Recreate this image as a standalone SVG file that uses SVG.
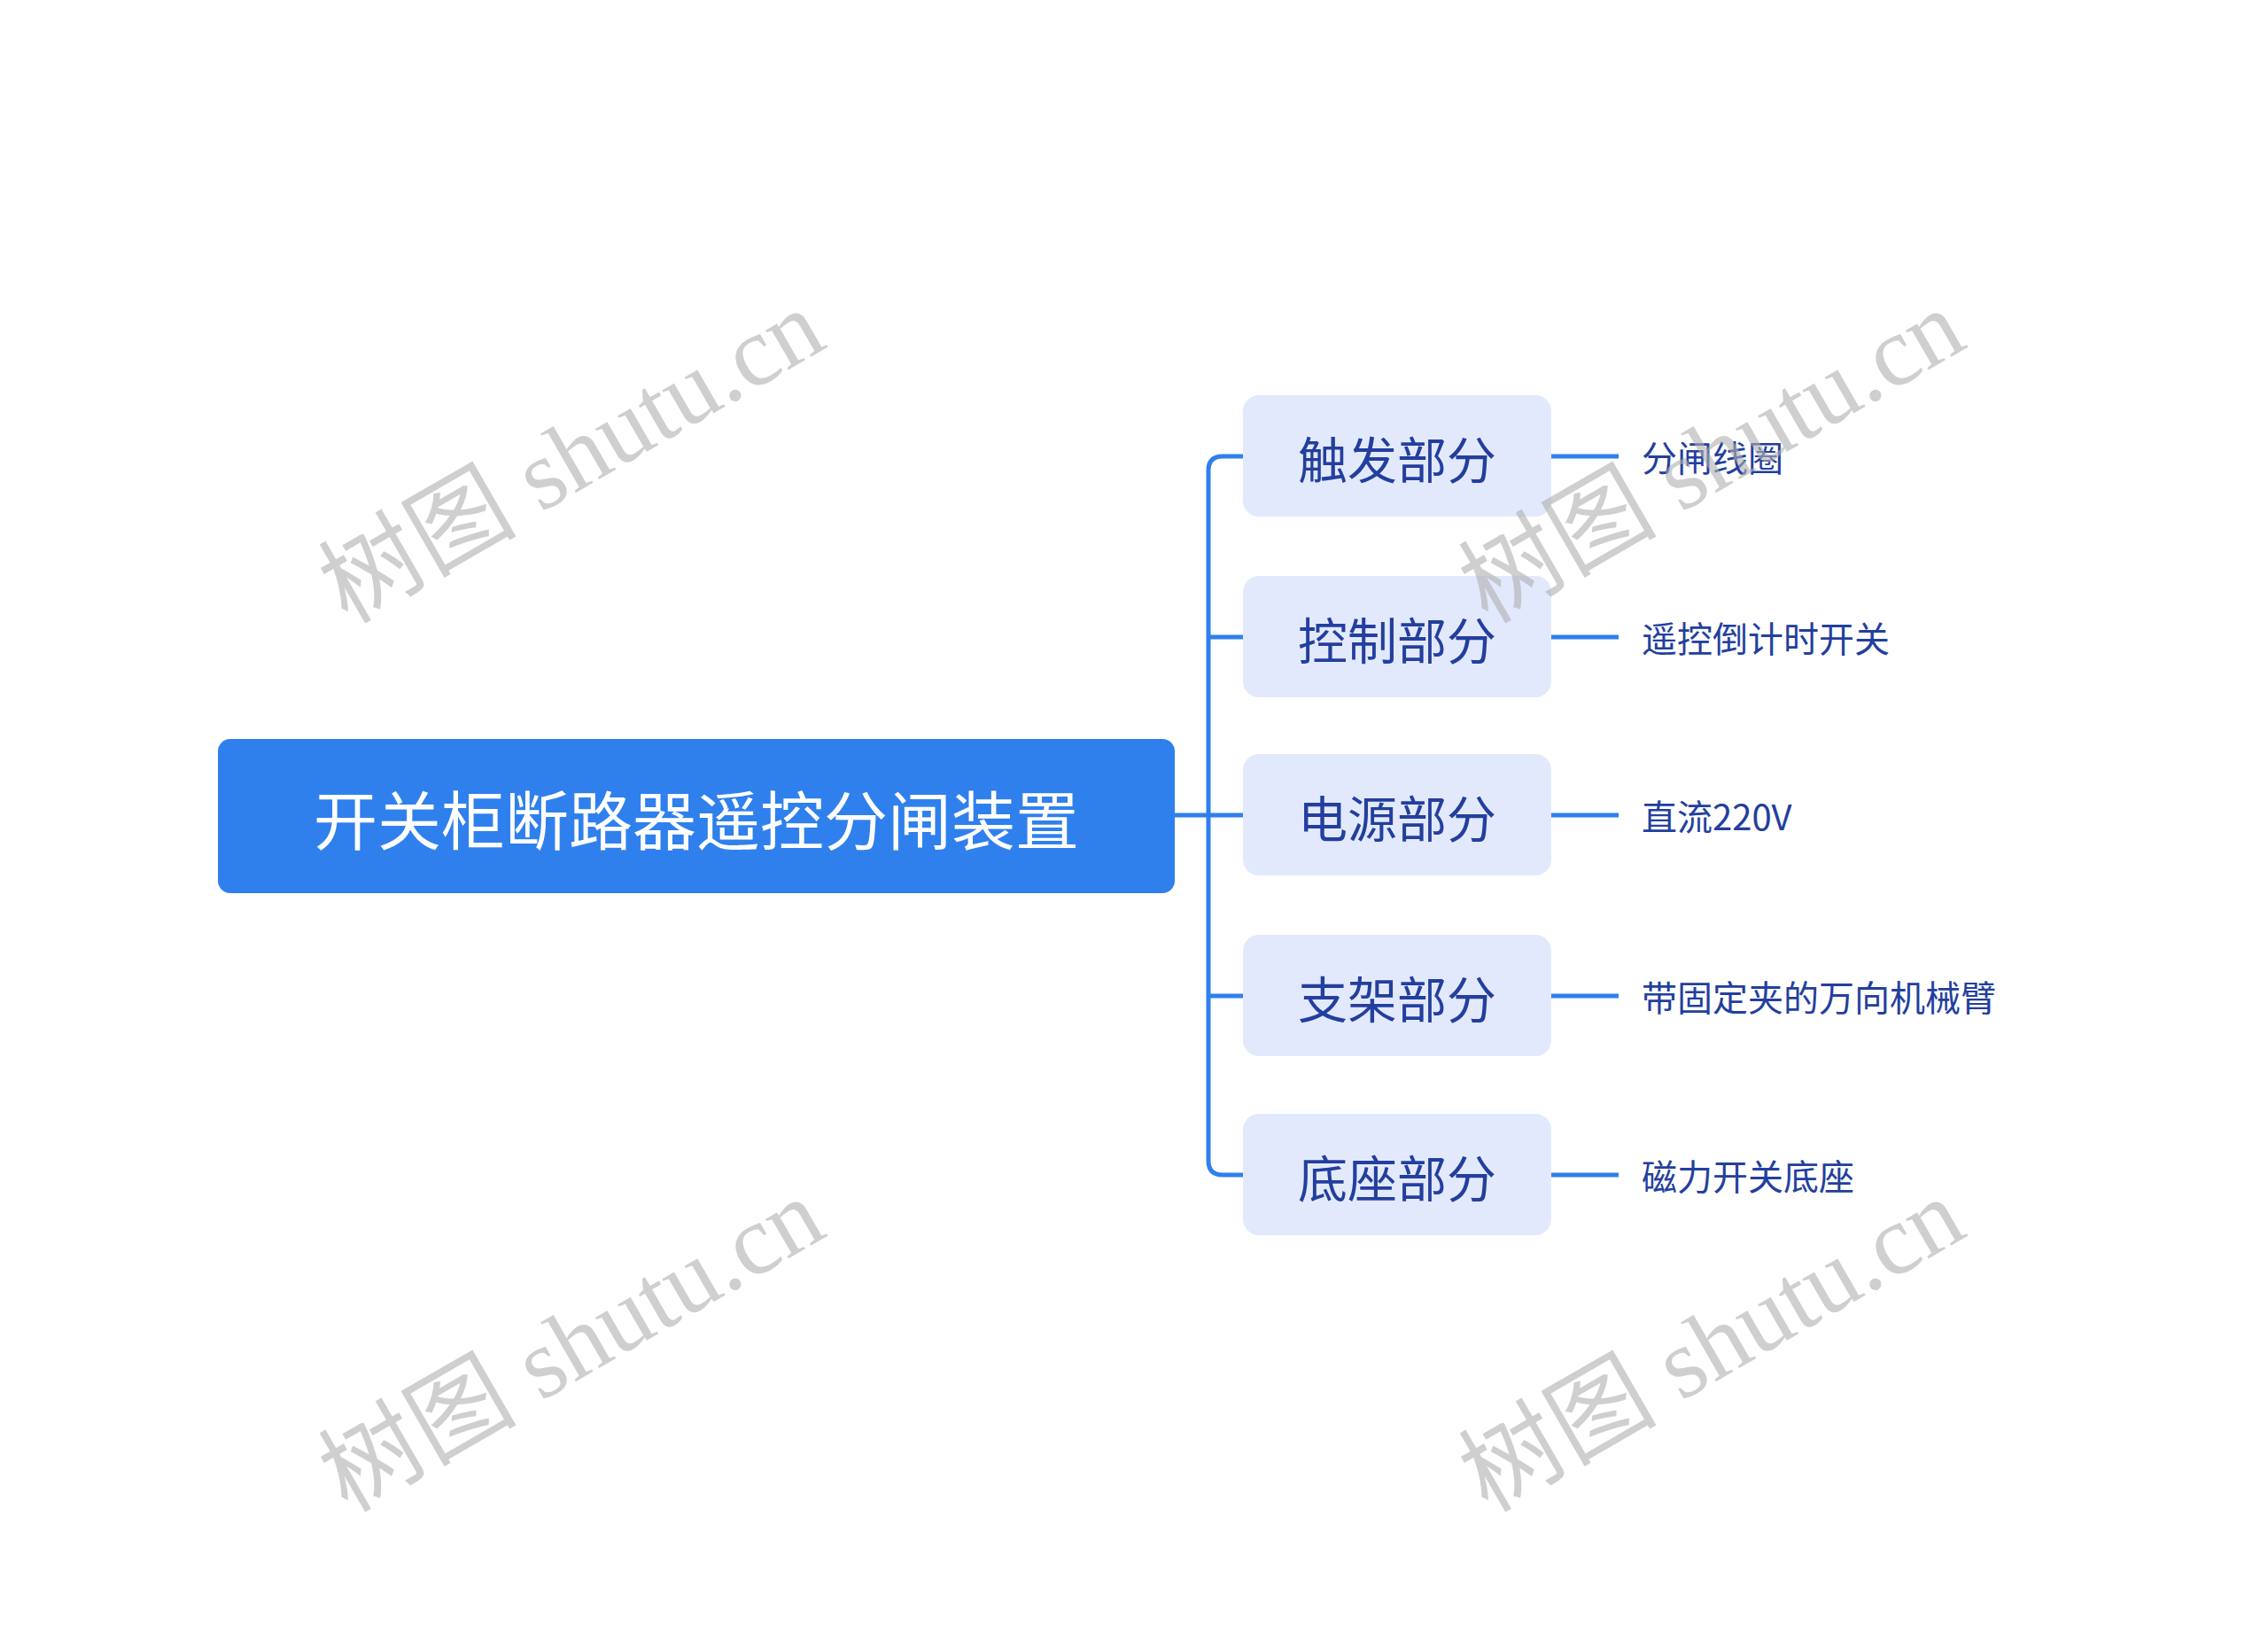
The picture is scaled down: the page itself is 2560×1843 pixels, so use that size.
<svg xmlns="http://www.w3.org/2000/svg" width="2560" height="1843" viewBox="0 0 2560 1843">
<style>
.root{fill:#2f80ed}
.rt{font-family:"Noto Sans CJK SC","Noto Sans",sans-serif;font-size:72px;fill:#fff}
.box{fill:#e3e9fd}
.ct{font-family:"Noto Sans CJK SC","Noto Sans",sans-serif;font-size:56px;fill:#233f9e}
.lt{font-family:"Noto Sans CJK SC","Noto Sans",sans-serif;font-size:40px;fill:#233f9e}
.ln{stroke:#2f80ed;stroke-width:5;fill:none}
.wm{font-family:"Liberation Serif","Noto Sans CJK SC",serif;font-size:112px;fill:#b0b0b0;opacity:0.6}
</style>
<rect width="2560" height="1843" fill="#fff"/>
<g transform="translate(-8 -5)">
<g id="connectors">
<path class="ln" d="M1334 925 H1411"/>
<path class="ln" d="M1411 520 H1388 Q1372 520 1372 536 V1315 Q1372 1331 1388 1331 H1411"/>
<path class="ln" d="M1372 724 Q1372 724 1388 724 H1411"/>
<path class="ln" d="M1372 1129 H1411"/>
<path class="ln" d="M1759 520 H1835 M1759 724 H1835 M1759 925 H1835 M1759 1129 H1835 M1759 1331 H1835"/>
</g>
<g id="root"><rect class="root" x="254" y="839" width="1080" height="174" rx="14"/><text class="rt" x="794" y="926" text-anchor="middle" dominant-baseline="central">开关柜断路器遥控分闸装置</text></g>
<g id="n1"><rect class="box" x="1411" y="451" width="348" height="137" rx="18"/><text class="ct" x="1585" y="520" text-anchor="middle" dominant-baseline="central">触发部分</text></g>
<g id="n2"><rect class="box" x="1411" y="655" width="348" height="137" rx="18"/><text class="ct" x="1585" y="724" text-anchor="middle" dominant-baseline="central">控制部分</text></g>
<g id="n3"><rect class="box" x="1411" y="856" width="348" height="137" rx="18"/><text class="ct" x="1585" y="925" text-anchor="middle" dominant-baseline="central">电源部分</text></g>
<g id="n4"><rect class="box" x="1411" y="1060" width="348" height="137" rx="18"/><text class="ct" x="1585" y="1129" text-anchor="middle" dominant-baseline="central">支架部分</text></g>
<g id="n5"><rect class="box" x="1411" y="1262" width="348" height="137" rx="18"/><text class="ct" x="1585" y="1331" text-anchor="middle" dominant-baseline="central">底座部分</text></g>
<g id="l1"><text class="lt" x="1861" y="520" dominant-baseline="central">分闸线圈</text></g>
<g id="l2"><text class="lt" x="1861" y="724" dominant-baseline="central">遥控倒计时开关</text></g>
<g id="l3"><text class="lt" x="1861" y="925" dominant-baseline="central">直流220V</text></g>
<g id="l4"><text class="lt" x="1861" y="1129" dominant-baseline="central">带固定夹的万向机械臂</text></g>
<g id="l5"><text class="lt" x="1861" y="1331" dominant-baseline="central">磁力开关底座</text></g>
</g>
<g id="watermarks">
<text class="wm" transform="translate(645 515) rotate(-30)" text-anchor="middle" dominant-baseline="central">树图 shutu.cn</text>
<text class="wm" transform="translate(1932 515) rotate(-30)" text-anchor="middle" dominant-baseline="central">树图 shutu.cn</text>
<text class="wm" transform="translate(645 1518) rotate(-30)" text-anchor="middle" dominant-baseline="central">树图 shutu.cn</text>
<text class="wm" transform="translate(1932 1518) rotate(-30)" text-anchor="middle" dominant-baseline="central">树图 shutu.cn</text>
</g>
</svg>
